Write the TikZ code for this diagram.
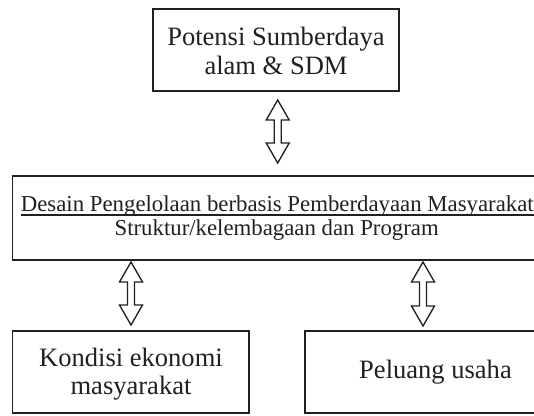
\documentclass[tikz,border=0pt]{standalone}
\usepackage{fontspec}
\setmainfont{Liberation Serif}
\usetikzlibrary{calc}
\definecolor{ink}{HTML}{231F20}
\newcommand\dbarrow[2]{%
  \draw[blockarr] (#1) -- ($(#1)+(11.5,20)$) -- ($(#1)+(3.5,20)$) --
    ($(#2)+(3.5,-20)$) -- ($(#2)+(11.5,-20)$) -- (#2) --
    ($(#2)+(-11.5,-20)$) -- ($(#2)+(-3.5,-20)$) --
    ($(#1)+(-3.5,20)$) -- ($(#1)+(-11.5,20)$) -- cycle;}
\begin{document}
\begin{tikzpicture}[x=0.75pt,y=-0.75pt,
  boxline/.style={draw=ink,line width=1.1pt},
  bigtext/.style={anchor=base,inner sep=0pt,text=ink,font=\fontsize{19.9}{21}\selectfont},
  midtext/.style={anchor=base,inner sep=0pt,text=ink,font=\fontsize{17.1}{18}\selectfont},
  blockarr/.style={draw=ink,line width=1pt,line join=miter,fill=white}]
\useasboundingbox (0,0) rectangle (534,415);
\clip (0,0) rectangle (534,415);
% boxes
\draw[boxline] (153,9) rectangle (399,91);
\coordinate (topbox) at (276,50);
\draw[boxline] (12.7,176) rectangle (545,260);
\draw[boxline] (12.7,331) rectangle (249,413);
\draw[boxline] (305,331) rectangle (545,413);
% texts
\node[bigtext] (t1) at (276,45) {Potensi Sumberdaya};
\node[bigtext] (t2) at (276,74) {alam \& SDM};
\node[midtext] (m1) at (277.3,211.7) {Desain Pengelolaan berbasis Pemberdayaan Masyarakat};
\draw[ink,line width=0.9pt] ($(m1.base west)+(0,3.3)$) -- ($(m1.base east)+(0,3.3)$);
\node[midtext] (m2) at (276.7,235.5) {Struktur/kelembagaan dan Program};
\node[bigtext] (k1) at (131,366) {Kondisi ekonomi};
\node[bigtext] (k2) at (131,394) {masyarakat};
\node[bigtext] (p1) at (435.5,378) {Peluang usaha};
% arrows
\coordinate (a1) at (277.7,100); \coordinate (a2) at (277.7,163);
\coordinate (b1) at (131,262);   \coordinate (b2) at (131,325);
\coordinate (c1) at (423,262);   \coordinate (c2) at (423,326);
\dbarrow{a1}{a2}
\dbarrow{b1}{b2}
\dbarrow{c1}{c2}
\end{tikzpicture}
\end{document}
